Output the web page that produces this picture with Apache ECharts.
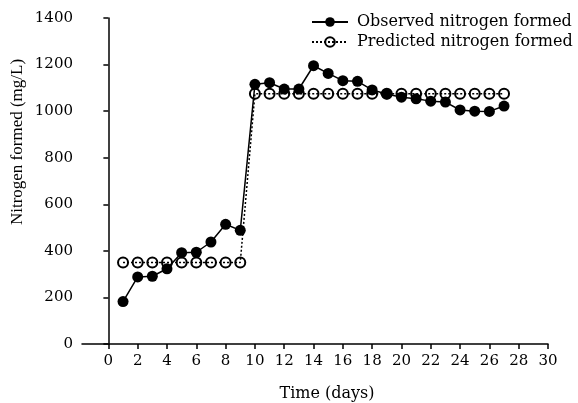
<!DOCTYPE html>
<html>
<head>
<meta charset="utf-8">
<script src="https://cdn.jsdelivr.net/npm/echarts@6/dist/echarts.min.js"></script>
<style>html,body{margin:0;padding:0;background:#fff;}#c{width:578px;height:403px;}</style>
</head>
<body>
<div id="c"></div>
<script>
const days = [1,2,3,4,5,6,7,8,9,10,11,12,13,14,15,16,17,18,19,20,21,22,23,24,25,26,27];
const observed = [182,288,291,323,392,394,438,514,488,1115,1122,1095,1095,1195,1162,1131,1128,1091,1074,1060,1053,1043,1039,1005,1000,999,1022];
const predicted = [350,350,350,350,350,350,350,350,350,1075,1075,1075,1075,1075,1075,1075,1075,1075,1075,1075,1075,1075,1075,1075,1075,1075,1075];
const xTicks = [0,2,4,6,8,10,12,14,16,18,20,22,24,26,28,30];
const seriesNames = ['Observed nitrogen formed','Predicted nitrogen formed'];
const xTitle = 'Time (days)';
const yTitle = 'Nitrogen formed (mg/L)';

const FONT = 'DejaVu Serif';
const chart = echarts.init(document.getElementById('c'), null, {renderer:'canvas'});
chart.setOption({
  animation:false,
  backgroundColor:'#fff',
  grid:{left:82,right:30,top:18,bottom:59,containLabel:false},
  legend:{
    orient:'vertical', left:311, top:14, padding:0, itemWidth:36, itemHeight:12, itemGap:4,
    textStyle:{fontFamily:FONT,fontSize:16,color:'#000',padding:[0,0,0,4]},
    data:seriesNames
  },
  xAxis:{
    type:'value', min:-1.8, max:30,
    axisLine:{show:true,onZero:false,lineStyle:{color:'#000',width:1.5}},
    axisTick:{show:true,length:5,lineStyle:{color:'#000',width:1.5},customValues:xTicks},
    axisLabel:{color:'#000',fontFamily:FONT,fontSize:15,margin:10,customValues:xTicks},
    splitLine:{show:false}
  },
  yAxis:{
    type:'value', min:0, max:1400, interval:200,
    axisLine:{show:true,lineStyle:{color:'#000',width:1.5}},
    axisTick:{show:true,length:5,lineStyle:{color:'#000',width:1.5}},
    axisLabel:{color:'#000',fontFamily:FONT,fontSize:15,margin:9,formatter:v=>String(v)},
    splitLine:{show:false}
  },
  graphic:[
    {type:'text',x:327,y:394,style:{text:xTitle,fill:'#000',font:'16px "DejaVu Serif"',textAlign:'center',textVerticalAlign:'middle'}},
    {type:'text',x:18,y:142,rotation:Math.PI/2,style:{text:yTitle,fill:'#000',font:'17px "Liberation Serif"',textAlign:'center',textVerticalAlign:'middle'}}
  ],
  series:[
    {
      name:seriesNames[1], type:'line',
      data:days.map((d,i)=>[d,predicted[i]]),
      symbol:'circle', symbolSize:10,
      itemStyle:{color:'rgba(255,255,255,0)',borderColor:'#000',borderWidth:2},
      lineStyle:{color:'#000',width:1.5,type:[2,2]},
      z:2
    },
    {
      name:seriesNames[0], type:'line',
      data:days.map((d,i)=>[d,observed[i]]),
      symbol:'circle', symbolSize:11,
      itemStyle:{color:'#000',borderColor:'#000',borderWidth:0},
      lineStyle:{color:'#000',width:1.5},
      z:3
    }
  ]
});
</script>
</body>
</html>
